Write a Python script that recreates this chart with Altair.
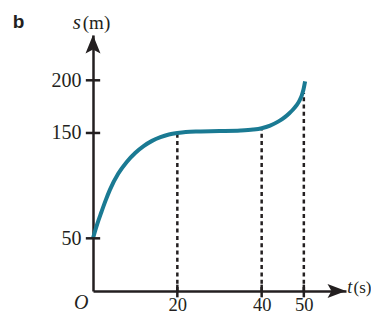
import altair as alt
import pandas as pd

# curve s(t)
t_vals = [0, 0.5, 1, 2, 3, 4, 6, 8, 10, 12, 14, 16, 18, 20, 22, 25, 30, 35, 38, 40,
          42, 44, 45.5, 46.5, 47.5, 48.3, 49.0, 49.5, 49.9, 50.3]
s_vals = [50, 57, 63.5, 75, 86, 96, 111.5, 122.5, 131, 137.5, 142.5, 146, 148.5, 150, 151, 151.5,
          151.8, 152.3, 153.2, 154.5, 157, 161, 165, 168.5, 172.5, 176.5, 181, 185.5, 191, 199]

# dashed drop lines
drop_t = [20, 40, 50]
drop_s = [149, 153, 188]

x_ticks = [20, 40, 50]
y_ticks = [50, 150, 200]

X_MAX = 60
Y_MAX = 243

INK = "#231f20"
TEAL = "#1a7a93"
SERIF = "Liberation Serif"

curve_df = pd.DataFrame({"t": t_vals, "s": s_vals})
drop_df = pd.DataFrame({"t": drop_t, "s0": [0] * len(drop_t), "s1": drop_s})
ytick_df = pd.DataFrame({"s": y_ticks, "t0": [-1.7] * 3, "t1": [1.7] * 3})
xtick_df = pd.DataFrame({"t": x_ticks, "s0": [-6] * 3, "s1": [6] * 3})
arrow_up_df = pd.DataFrame({"t": [0], "s": [Y_MAX]})
arrow_right_df = pd.DataFrame({"t": [X_MAX], "s": [0]})

xs = alt.Scale(domain=[0, X_MAX], nice=False, zero=False)
ys = alt.Scale(domain=[0, Y_MAX], nice=False, zero=False)

x_axis = alt.Axis(values=x_ticks, ticks=False, tickSize=0, grid=False, title=None,
                  domainColor=INK, domainWidth=2.5, labelFont=SERIF, labelFontSize=18.5,
                  labelColor=INK, labelPadding=19, labelBaseline="alphabetic", labelAngle=0)
y_axis = alt.Axis(values=y_ticks, ticks=False, tickSize=0, grid=False, title=None,
                  domainColor=INK, domainWidth=2.5, labelFont=SERIF, labelFontSize=20,
                  labelColor=INK, labelPadding=12)

base_axes = alt.Chart(curve_df).mark_line(opacity=0).encode(
    x=alt.X("t:Q", scale=xs, axis=x_axis),
    y=alt.Y("s:Q", scale=ys, axis=y_axis),
)

drops = alt.Chart(drop_df).mark_rule(color=INK, strokeWidth=2.5, strokeDash=[4, 3.3]).encode(
    x=alt.X("t:Q", scale=xs), y=alt.Y("s0:Q", scale=ys), y2="s1:Q"
)

curve = alt.Chart(curve_df).mark_line(color=TEAL, strokeWidth=4, interpolate="monotone",
                                      strokeCap="butt").encode(
    x=alt.X("t:Q", scale=xs), y=alt.Y("s:Q", scale=ys)
)

yticks = alt.Chart(ytick_df).mark_rule(color=INK, strokeWidth=2.5).encode(
    x=alt.X("t0:Q", scale=xs), x2="t1:Q", y=alt.Y("s:Q", scale=ys)
)
xticks = alt.Chart(xtick_df).mark_rule(color=INK, strokeWidth=2.5).encode(
    x=alt.X("t:Q", scale=xs), y=alt.Y("s0:Q", scale=ys), y2="s1:Q"
)

UP = "M0,0 L0.75,1.85 L0,1.45 L-0.75,1.85 Z"
RIGHT = "M0,0 L-1.85,-0.7 L-1.45,0 L-1.85,0.7 Z"

arrow_up = alt.Chart(arrow_up_df).mark_point(shape=UP, size=400, filled=True, fill=INK,
                                             strokeWidth=0, opacity=1).encode(
    x=alt.X("t:Q", scale=xs), y=alt.Y("s:Q", scale=ys)
)
arrow_right = alt.Chart(arrow_right_df).mark_point(shape=RIGHT, size=400, filled=True, fill=INK,
                                                   strokeWidth=0, opacity=1).encode(
    x=alt.X("t:Q", scale=xs), y=alt.Y("s:Q", scale=ys)
)

# text annotations
s_label = pd.DataFrame({"t": [-4.81], "s": [248.7], "txt": ["s"]})
t_label = pd.DataFrame({"t": [60.3], "s": [-1.9], "txt": ["t"]})
o_label = pd.DataFrame({"t": [-4.5], "s": [-17.5], "txt": ["O"]})
m_unit = pd.DataFrame({"t": [-2.42], "s": [248.7], "txt": ["(m)"]})
s_unit = pd.DataFrame({"t": [61.8], "s": [-1.9], "txt": ["(s)"]})
panel_df = pd.DataFrame({"t": [-17.67], "s": [249.4], "txt": ["b"]})


def txt(df, size, **kw):
    return alt.Chart(df).mark_text(
        fontSize=size, align="left", baseline="alphabetic", color=INK, **kw
    ).encode(x=alt.X("t:Q", scale=xs), y=alt.Y("s:Q", scale=ys), text="txt:N")


layers = [
    txt(s_label, 21, font=SERIF, fontStyle="italic"),
    txt(m_unit, 19, font=SERIF),
    txt(t_label, 18, font=SERIF, fontStyle="italic"),
    txt(s_unit, 17, font=SERIF),
    txt(o_label, 20, font=SERIF, fontStyle="italic"),
    alt.Chart(panel_df).mark_text(
        font="Liberation Sans", fontSize=19, fontWeight="bold", align="center",
        baseline="alphabetic", color=INK
    ).encode(x=alt.X("t:Q", scale=xs), y=alt.Y("s:Q", scale=ys), text="txt:N"),
]

chart = alt.layer(
    base_axes, drops, curve, yticks, xticks, arrow_up, arrow_right, *layers
).properties(
    width=253, height=256,
    autosize=alt.AutoSizeParams(type="none"),
    padding={"left": 85, "top": 27, "right": 25, "bottom": 22},
    background="white",
).configure_view(stroke="transparent", strokeWidth=0)

chart.save("out.html", embed_options={"renderer": "svg", "actions": False})
